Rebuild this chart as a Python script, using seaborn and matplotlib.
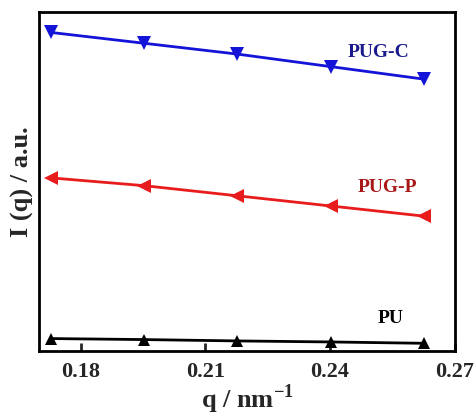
import matplotlib
matplotlib.use("Agg")
import matplotlib.pyplot as plt
import seaborn as sns

q = [0.1727, 0.1952, 0.2177, 0.2402, 0.2627]
pug_c = [94.0, 90.8, 87.6, 83.9, 80.2]
pug_p = [51.1, 48.8, 45.8, 42.8, 39.8]
pu = [3.7, 3.4, 3.0, 2.7, 2.3]

sns.set_style("ticks")
plt.rcParams['font.family'] = ['Liberation Serif', 'DejaVu Serif']
plt.rcParams['font.weight'] = 'bold'
plt.rcParams['mathtext.fontset'] = 'custom'
plt.rcParams['mathtext.rm'] = 'Liberation Serif:bold'
plt.rcParams['mathtext.bf'] = 'Liberation Serif:bold'

fig, ax = plt.subplots(figsize=(4.75, 4.16), dpi=100)
fig.subplots_adjust(left=0.083, right=0.957, top=0.971, bottom=0.156)

sns.lineplot(x=q, y=pug_c, ax=ax, color="#1414d8", marker="v", markersize=10,
             markeredgewidth=0, linewidth=2)
sns.lineplot(x=q, y=pug_p, ax=ax, color="#e81c1c", marker="<", markersize=10,
             markeredgewidth=0, linewidth=2)
sns.lineplot(x=q, y=pu, ax=ax, color="black", marker="^", markersize=9,
             markeredgewidth=0, linewidth=2)

ax.text(0.2516, 88.2, "PUG-C", color="#1a1a8c", fontsize=14, fontweight="bold",
        ha="center", va="center")
ax.text(0.2537, 48.4, "PUG-P", color="#a81818", fontsize=14, fontweight="bold",
        ha="center", va="center")
ax.text(0.2545, 9.7, "PU", color="black", fontsize=14, fontweight="bold",
        ha="center", va="center")

ax.set_xlim(0.17, 0.27)
ax.set_ylim(0, 100)
ax.set_xticks([0.18, 0.21, 0.24, 0.27])
ax.set_xticklabels(["0.18", "0.21", "0.24", "0.27"])
ax.set_yticks([])
ax.tick_params(axis="x", direction="in", length=6, width=2, labelsize=16, pad=8)
for s in ax.spines.values():
    s.set_linewidth(2)
    s.set_color("black")

ax.set_xlabel("q / nm$^{-1}$", fontsize=19, fontweight="bold", labelpad=0)
ax.set_ylabel("I (q) / a.u.", fontsize=19, fontweight="bold", labelpad=4)

fig.savefig("out.png", dpi=100)
